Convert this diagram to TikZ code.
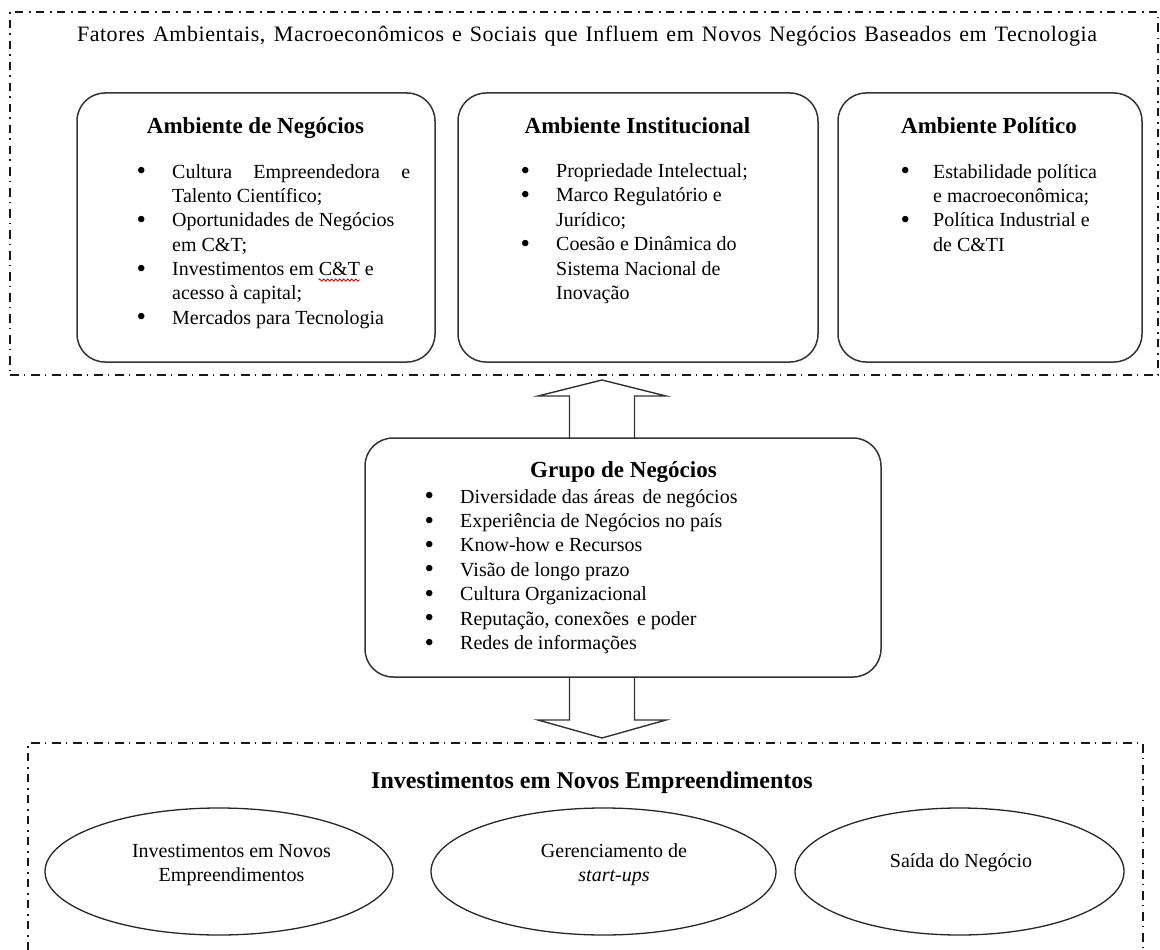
\documentclass[tikz,border=0pt]{standalone}
\usepackage{fontspec}
\setmainfont{Liberation Serif}
\usetikzlibrary{shapes.geometric,decorations.pathmorphing}

% type sizes
\newcommand{\titlesize}{\fontsize{22}{26}\selectfont\addfontfeature{LetterSpace=2.5}}
\newcommand{\headsize}{\fontsize{23}{27}\selectfont\bfseries}
\newcommand{\bigheadsize}{\fontsize{24}{28}\selectfont\bfseries}
\newcommand{\bodysize}{\fontsize{20}{24.4}\selectfont}

% bullet lists: bullet column width, bullet item, continuation line
\newlength{\bulw}
\newcommand{\itm}{\makebox[\bulw][l]{\hspace*{-1pt}\raisebox{-1.6pt}{\fontsize{27}{27}\selectfont\textbullet}}}
\newcommand{\cont}{\hspace*{\bulw}}
\newcommand{\lista}[2]{\parbox[t]{330pt}{\raggedright\bodysize\setlength{\bulw}{#1}#2}}
\newcommand{\linhas}[1]{\parbox[t]{300pt}{\centering\bodysize #1}}

\tikzset{
  frame/.style={draw=black!90, line width=1.1pt,
    dash pattern=on 8.5pt off 5pt on 1.5pt off 6pt},
  envbox/.style={draw=black!80, line width=1.5pt, rounded corners=28pt,
    inner sep=0pt, outer sep=0pt},
  oval/.style={ellipse, draw=black!85, line width=1.3pt, inner sep=0pt, outer sep=0pt},
  heading/.style={anchor=base, inner sep=0pt, font=\headsize},
  listtext/.style={anchor=base west, inner sep=0pt},
  ovaltext/.style={anchor=base, inner sep=0pt},
  blockarrow/.style={draw=black!80, line width=1.4pt, line join=miter},
}

\begin{document}
\begin{tikzpicture}[x=1pt,y=-1pt]
\useasboundingbox (0,0) rectangle (1160,950);

% ---- outer frame: environmental factors ----
\node[frame, minimum width=1148pt, minimum height=363pt, inner sep=0pt, outer sep=0pt]
  (fatores) at (584,193.5) {};
\node[anchor=base, inner sep=0pt, font=\titlesize] (titulo) at (587,42)
  {\makebox[1020pt][s]{Fatores Ambientais, Macroeconômicos e Sociais que Influem em Novos Negócios Baseados em Tecnologia}};

% ---- three environment boxes ----
\node[envbox, minimum width=358pt, minimum height=269pt] (negocios) at (256,227.5) {};
\node[envbox, minimum width=360pt, minimum height=269pt] (institucional) at (638,227.5) {};
\node[envbox, minimum width=304pt, minimum height=269pt] (politico) at (990,227.5) {};

\node[heading] (negocios-t) at (255.5,133) {Ambiente de Negócios};
\node[heading] (institucional-t) at (637.5,133) {Ambiente Institucional};
\node[heading] (politico-t) at (989,133) {Ambiente Político};

\node[listtext] (negocios-l) at (137.5,178) {\lista{34.5pt}{%
  \itm\makebox[238pt][s]{Cultura Empreendedora e}\\
  \cont Talento Científico;\\
  \itm Oportunidades de Negócios\\
  \cont em C\&T;\\
  \itm Investimentos em C\&T e\\
  \cont acesso à capital;\\
  \itm Mercados para Tecnologia}};

\node[listtext] (institucional-l) at (521.5,177.5) {\lista{34.5pt}{%
  \itm Propriedade Intelectual;\\
  \itm Marco Regulatório e\\
  \cont Jurídico;\\
  \itm Coesão e Dinâmica do\\
  \cont Sistema Nacional de\\
  \cont Inovação}};

\node[listtext] (politico-l) at (901.5,178) {\lista{31.5pt}{%
  \itm Estabilidade política\\
  \cont e macroeconômica;\\
  \itm Política Industrial e\\
  \cont de C\&TI}};

% spell-check underline under "C&T"
\draw[red!85!black, line width=0.8pt, decorate,
  decoration={snake, amplitude=1.1pt, segment length=4pt}]
  (318.5,280) -- (360,280);

% ---- business group ----
\node[envbox, minimum width=516pt, minimum height=239pt] (grupo) at (623,557.5) {};
\node[heading] (grupo-t) at (623.5,477) {Grupo de Negócios};
\node[listtext] (grupo-l) at (425.5,503) {\lista{34.5pt}{%
  \itm Diversidade das áreas\hspace{3pt} de negócios\\
  \itm Experiência de Negócios no país\\
  \itm Know-how e Recursos\\
  \itm Visão de longo prazo\\
  \itm Cultura Organizacional\\
  \itm Reputação, conexões\hspace{3pt} e poder\\
  \itm Redes de informações}};

% ---- lower frame: investments in new ventures ----
\coordinate (invtop) at (585.5,743);
\draw[frame] (28,950) -- (28,743) -- (invtop) -- (1143,743) -- (1143,950);
\node[anchor=base, inner sep=0pt, font=\bigheadsize] (inv-t) at (592,788)
  {Investimentos em Novos Empreendimentos};

\node[oval, minimum width=348pt, minimum height=127pt] (inv) at (219,871.5) {};
\node[oval, minimum width=345pt, minimum height=127pt] (gerencia) at (603.5,871.5) {};
\node[oval, minimum width=329pt, minimum height=127pt] (saida) at (959.5,871.5) {};

\node[ovaltext] (inv-l) at (231.5,857) {\linhas{Investimentos em Novos\\Empreendimentos}};
\node[ovaltext] (gerencia-l) at (614,857) {\linhas{Gerenciamento de\\\textit{start-ups}}};
\node[ovaltext] (saida-l) at (961,867) {\linhas{Saída do Negócio}};

% ---- block arrows ----
\coordinate (eixo) at (602,0);
\path (fatores.south -| eixo) ++(0,5) coordinate (pontaup);
\path (invtop -| eixo) ++(0,-5) coordinate (pontadown);

\draw[blockarrow] (grupo.north -| eixo) ++(-32.5,0) -- ++(0,-42) -- ++(-31.5,0)
  -- (pontaup) -- ++(64,16) -- ++(-31.5,0) -- ++(0,42);
\draw[blockarrow] (grupo.south -| eixo) ++(-32.5,0) -- ++(0,43) -- ++(-31.5,0)
  -- (pontadown) -- ++(64,-18) -- ++(-31.5,0) -- ++(0,-43);
\end{tikzpicture}
\end{document}
